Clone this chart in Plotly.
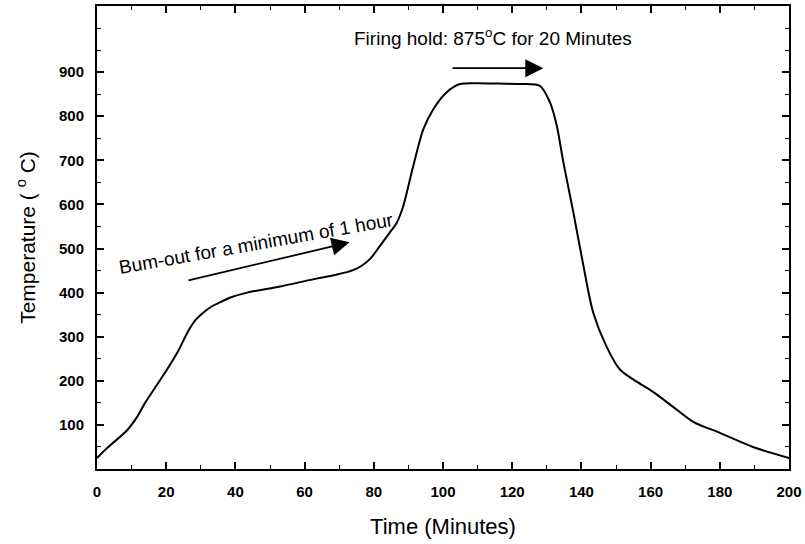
import plotly.graph_objects as go

time_min = [0, 3, 8.7, 11.5, 13.9, 17, 20.2, 23.5, 26.3, 28.5, 30.6, 33, 35.5, 39, 43.4, 52.9, 62.4, 69.4, 74, 76.5,
            79, 81.8, 84.5, 86.6, 88.5, 91.4, 94.3, 97.2, 101, 104.9, 110, 116, 122.3, 128, 130.9, 132.9, 134.8,
            137.7, 140.6, 143.4, 147.3, 151.2, 156, 160.7, 166.5, 172.3, 180, 189.6, 200]
temp_c = [25, 48, 88, 117, 150, 187, 225, 268, 312, 338, 354, 368, 378, 390, 400, 414, 430, 441, 451, 461,
          477, 506, 535, 558, 596, 687, 770, 816, 854, 873, 875, 874, 873, 869, 832, 778, 695,
          581, 460, 355, 277, 225, 198, 175, 141, 107, 82, 50, 25]

x_ticks = [0, 20, 40, 60, 80, 100, 120, 140, 160, 180, 200]
y_ticks = [100, 200, 300, 400, 500, 600, 700, 800, 900]

burnout_arrow = dict(t0=26, T0=427, t1=73, T1=514)
hold_arrow = dict(t0=102.3, T0=909, t1=129, T1=909)

fig = go.Figure()
fig.add_trace(go.Scatter(x=time_min, y=temp_c, mode="lines",
                         line=dict(color="black", width=2, shape="spline", smoothing=0.8),
                         showlegend=False, hoverinfo="skip"))

font_fam = "Liberation Sans, Arial, sans-serif"
axis_common = dict(showline=True, linecolor="black", linewidth=2, mirror="allticks",
                   ticks="inside", ticklen=7, tickwidth=1.5, tickcolor="black",
                   showgrid=False, zeroline=False, automargin=False,
                   tickfont=dict(family=font_fam, size=15, color="black", weight="bold"))

fig.update_xaxes(range=[0, 200], tickvals=x_ticks, ticktext=[str(v) for v in x_ticks],
                 minor=dict(ticks="inside", dtick=10, ticklen=4, tickcolor="black", tickwidth=1),
                 title=dict(text="Time (Minutes)", font=dict(family=font_fam, size=22, color="black"),
                            standoff=20),
                 ticklabelstandoff=8, **axis_common)
fig.update_yaxes(range=[0, 1050], tickvals=y_ticks, ticktext=[str(v) for v in y_ticks],
                 minor=dict(ticks="inside", dtick=50, tick0=0, ticklen=4, tickcolor="black", tickwidth=1),
                 title=dict(text="Temperature ( <sup>o</sup> C)", font=dict(family=font_fam, size=21, color="black"),
                            standoff=18),
                 ticklabelstandoff=8, **axis_common)

fig.add_annotation(x=burnout_arrow["t1"], y=burnout_arrow["T1"], ax=burnout_arrow["t0"], ay=burnout_arrow["T0"],
                   xref="x", yref="y", axref="x", ayref="y", text="", showarrow=True,
                   arrowhead=2, arrowsize=2, arrowwidth=1.8, arrowcolor="black")
fig.add_annotation(x=hold_arrow["t1"], y=hold_arrow["T1"], ax=hold_arrow["t0"], ay=hold_arrow["T0"],
                   xref="x", yref="y", axref="x", ayref="y", text="", showarrow=True,
                   arrowhead=2, arrowsize=2, arrowwidth=1.8, arrowcolor="black")

fig.add_annotation(x=46, y=512, xref="x", yref="y", text="Bum-out for a minimum of 1 hour",
                   showarrow=False, textangle=-10,
                   font=dict(family=font_fam, size=19, color="black"))
fig.add_annotation(x=114.5, y=980, xref="x", yref="y", text="Firing hold: 875<sup>o</sup>C for 20 Minutes",
                   showarrow=False, font=dict(family=font_fam, size=19, color="black"))

fig.update_layout(width=805, height=544, margin=dict(l=97, r=16, t=6, b=75),
                  plot_bgcolor="white", paper_bgcolor="white")

fig.write_html("out.html", config={"displayModeBar": False},
               post_script="document.body.style.margin='0';")
